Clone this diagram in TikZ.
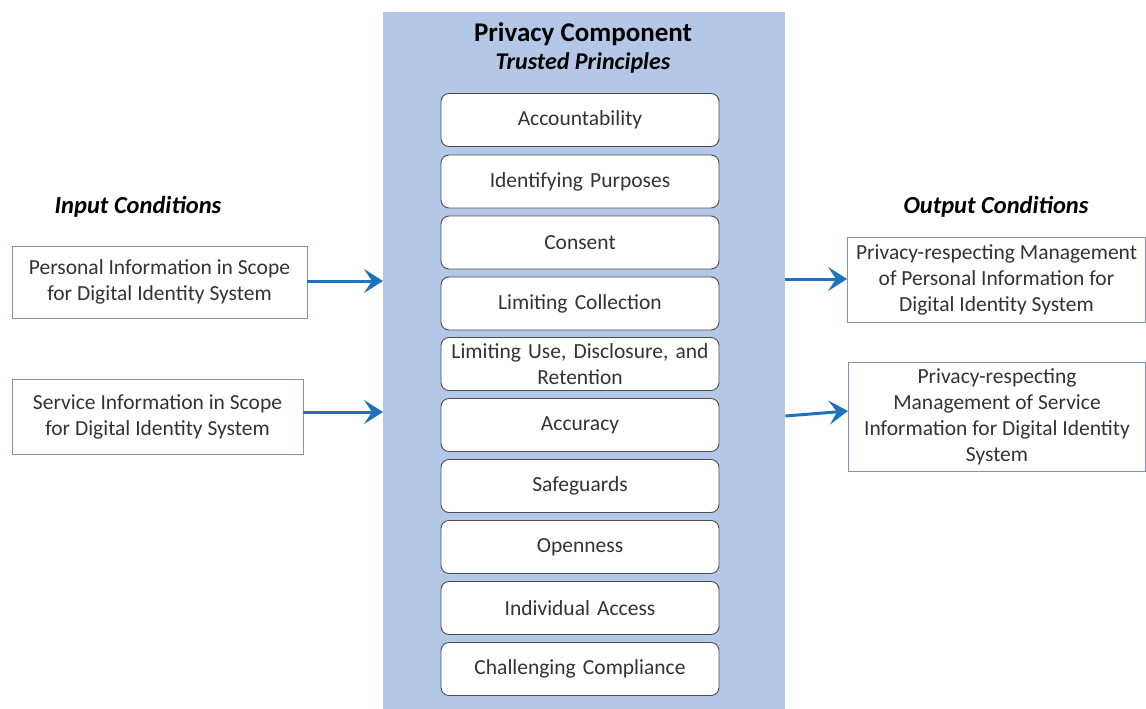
\documentclass[tikz,border=0pt]{standalone}
\usepackage{fontspec}
\setmainfont{Carlito}
\usetikzlibrary{arrows.meta,positioning,calc}
\definecolor{panelblue}{HTML}{B4C7E7}
\definecolor{arrowblue}{HTML}{1F73BE}
\definecolor{sideborder}{HTML}{7F93AE}
\definecolor{txtgray}{HTML}{333333}
\tikzset{
  principle/.style={draw=black!70, line width=0.9pt, fill=white, rounded corners=8pt,
    minimum width=278pt, minimum height=53pt, text width=274pt, align=center,
    font=\fontsize{21.5}{26}\selectfont, text=txtgray, inner sep=0pt},
  sidebox/.style={draw=sideborder, line width=0.9pt, fill=white, align=center,
    font=\fontsize{21.5}{26}\selectfont, text=txtgray, inner sep=0pt},
  heading/.style={font=\fontsize{24.5}{28}\selectfont\bfseries\itshape, text=black},
  flow/.style={draw=arrowblue, line width=3pt, -{Stealth[length=19pt,width=24pt,inset=8pt]}},
}
\begin{document}
\begin{tikzpicture}[x=1pt,y=-1pt]
\useasboundingbox (0,0) rectangle (1146,709);
\node[fill=panelblue, minimum width=402pt, minimum height=697pt, inner sep=0pt, anchor=north west] (panel) at (383,12) {};
\node[font=\fontsize{27}{31}\selectfont\bfseries] (title) at (583,34) {Privacy Component};
\node[font=\fontsize{24}{28}\selectfont\bfseries\itshape] (subtitle) at (583,63) {Trusted Principles};
\node[principle] (p1) at (580,120) {Accountability};
\node[principle] (p2) at (580,181.5) {Identifying Purposes};
\node[principle] (p3) at (580,242.5) {Consent};
\node[principle] (p4) at (580,303.5) {Limiting Collection};
\node[principle] (p5) at (580,364) {Limiting Use, Disclosure, and\\Retention};
\node[principle] (p6) at (580,425) {Accuracy};
\node[principle] (p7) at (580,486) {Safeguards};
\node[principle] (p8) at (580,547) {Openness};
\node[principle] (p9) at (580,608) {Individual Access};
\node[principle] (p10) at (580,669) {Challenging Compliance};

\node[heading] (inh) at (138,207) {Input Conditions};
\node[heading] (outh) at (996,207) {Output Conditions};

\node[sidebox, minimum width=295pt, minimum height=72pt] (in1) at (159.5,282) {Personal Information in Scope\\for Digital Identity System};
\node[sidebox, minimum width=291pt, minimum height=75pt] (in2) at (157.5,416.5) {Service Information in Scope\\for Digital Identity System};
\node[sidebox, minimum width=298pt, minimum height=85pt] (out1) at (996.5,279.5) {Privacy-respecting Management\\of Personal Information for\\Digital Identity System};
\node[sidebox, minimum width=297pt, minimum height=109pt] (out2) at (997,416.5) {Privacy-respecting\\Management of Service\\Information for Digital Identity\\System};

\coordinate (a2s) at (panel.east |- 0,416);
\coordinate (a2e) at (out2.west |- 0,411);
\draw[flow] (in1.east |- 0,281) -- (panel.west |- 0,281);
\draw[flow] (in2.east |- 0,412) -- (panel.west |- 0,412);
\draw[flow] (panel.east |- 0,279) -- (out1.west |- 0,279);
\draw[flow] (a2s) -- (a2e);
\end{tikzpicture}
\end{document}
